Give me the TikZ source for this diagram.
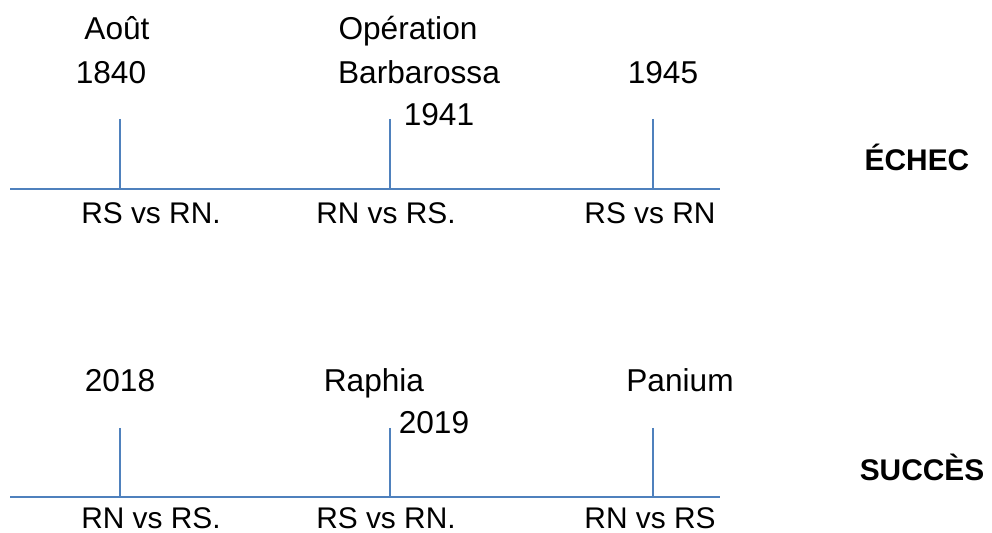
\documentclass[tikz,border=0pt]{standalone}
\usepackage{fontspec}
\setmainfont{Liberation Sans}
\usepackage{tikz}
\usetikzlibrary{positioning}
\definecolor{axisblue}{RGB}{79,129,189}

\begin{document}
\begin{tikzpicture}[
x=0.02cm, y=-0.02cm,
lbl/.style={anchor=base, inner sep=0pt, font=\fontsize{18}{21}\selectfont},
duel/.style={anchor=base, inner sep=0pt, font=\fontsize{17}{20}\selectfont},
verdict/.style={anchor=base, inner sep=0pt, font=\fontsize{17}{20}\selectfont\bfseries},
axis/.style={draw=axisblue, line width=1.1pt},
tickline/.style={draw=axisblue, line width=1.1pt}
]
\useasboundingbox (0,0) rectangle (992,533);

\coordinate (a0) at (10,189);
\coordinate (a1) at (720,189);
\coordinate (t1) at (120,119);
\coordinate (t2) at (390,119);
\coordinate (t3) at (653,119);
\coordinate (b1) at (120,189);
\coordinate (b2) at (390,189);
\coordinate (b3) at (653,189);
\draw[axis] (a0) -- (a1);
\draw[tickline] (t1) -- (b1);
\draw[tickline] (t2) -- (b2);
\draw[tickline] (t3) -- (b3);

\node[lbl] (aout) at (117,40) {Août};
\node[lbl] (y1840) at (111,84) {1840};
\node[lbl] (oper) at (408,40) {Opération};
\node[lbl] (barb) at (419,84) {Barbarossa};
\node[lbl] (y1941) at (439,126) {1941};
\node[lbl] (y1945) at (663,84) {1945};
\node[verdict] (echec) at (917,171) {ÉCHEC};
\node[duel] (m1) at (151,224) {RS vs RN.};
\node[duel] (m2) at (386,224) {RN vs RS.};
\node[duel] (m3) at (650,224) {RS vs RN};

\coordinate (c0) at (10,497);
\coordinate (c1) at (720,497);
\coordinate (u1) at (120,428);
\coordinate (u2) at (390,428);
\coordinate (u3) at (653,428);
\coordinate (d1) at (120,497);
\coordinate (d2) at (390,497);
\coordinate (d3) at (653,497);
\draw[axis] (c0) -- (c1);
\draw[tickline] (u1) -- (d1);
\draw[tickline] (u2) -- (d2);
\draw[tickline] (u3) -- (d3);

\node[lbl] (y2018) at (120,392) {2018};
\node[lbl] (raph) at (374,392) {Raphia};
\node[lbl] (y2019) at (434,434) {2019};
\node[lbl] (pan) at (680,392) {Panium};
\node[verdict] (succes) at (922,481) {SUCCÈS};
\node[duel] (n1) at (151,529) {RN vs RS.};
\node[duel] (n2) at (386,529) {RS vs RN.};
\node[duel] (n3) at (650,529) {RN vs RS};
\end{tikzpicture}
\end{document}
